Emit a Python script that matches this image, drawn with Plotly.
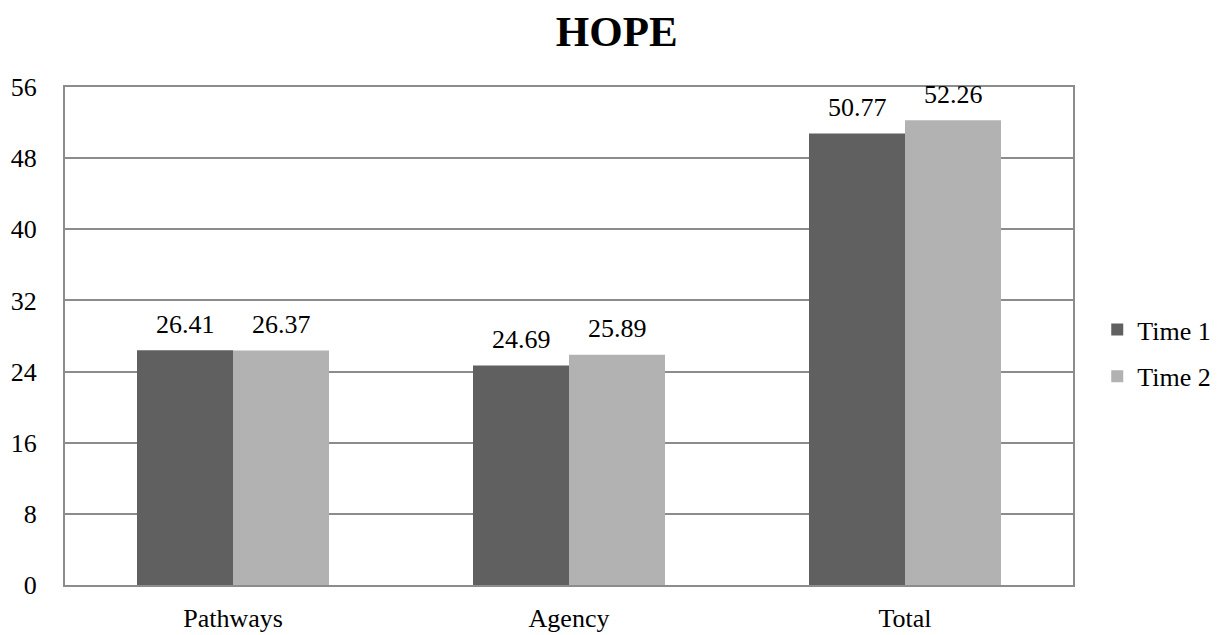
import plotly.graph_objects as go

categories = ["Pathways", "Agency", "Total"]
time1 = [26.41, 24.69, 50.77]
time2 = [26.37, 25.89, 52.26]
series_names = ["Time 1", "Time 2"]
y_ticks = [0, 8, 16, 24, 32, 40, 48, 56]

FONT = "Liberation Serif"
grid = "#8c8c8c"
colors = ["#606060", "#b2b2b2"]

fig = go.Figure()
for i, (name, vals) in enumerate([(series_names[0], time1), (series_names[1], time2)]):
    fig.add_trace(go.Bar(
        x=categories, y=vals, name=name, legendgroup=name,
        marker=dict(color=colors[i], line=dict(width=0)),
    ))
    for c, v in zip(categories, vals):
        fig.add_annotation(x=c, y=v, text=f"{v:.2f}", showarrow=False,
                           xshift=-48 if i == 0 else 48, yshift=26, yanchor="middle",
                           font=dict(family=FONT, size=26, color="#000000"))

fig.update_layout(
    width=1215, height=627,
    margin=dict(l=57, r=150, t=79, b=50, autoexpand=False),
    plot_bgcolor="white", paper_bgcolor="white",
    barmode="group", bargap=0.4286, bargroupgap=0,
    title=dict(text="<b>HOPE</b>", x=0.501, xanchor="center", y=1 - 23 / 627, yanchor="middle",
               font=dict(family=FONT, size=43, color="#000000")),
    font=dict(family=FONT, size=26, color="#000000"),
    legend=dict(xref="container", yref="container", x=0.8965, xanchor="left",
                y=1 - 345 / 627, yanchor="middle",
                font=dict(family=FONT, size=26, color="#000000"),
                tracegroupgap=10, itemwidth=30),
    showlegend=True,
)
fig.update_yaxes(range=[0, 56], tickvals=y_ticks, showgrid=True, gridcolor=grid, gridwidth=1.5,
                 showline=True, linecolor=grid, linewidth=2, mirror=True, zeroline=False,
                 ticks="", ticklabelstandoff=21, automargin=False,
                 tickfont=dict(family=FONT, size=26))
fig.update_xaxes(showline=True, linecolor=grid, linewidth=2, mirror=True, ticks="",
                 ticklabelstandoff=9, automargin=False,
                 tickfont=dict(family=FONT, size=26))

fig.write_html("out.html")
